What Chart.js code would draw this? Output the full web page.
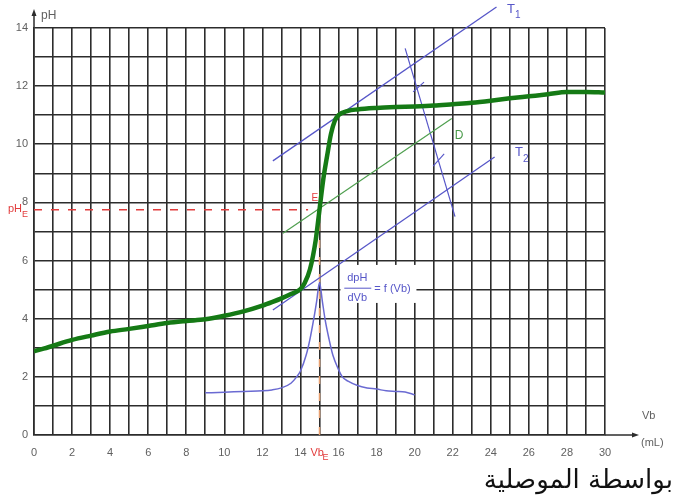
<!DOCTYPE html>
<html><head><meta charset="utf-8">
<script src="https://cdn.jsdelivr.net/npm/chart.js@4/dist/chart.umd.min.js"></script>
<style>
html,body{margin:0;padding:0;background:#fff;width:685px;height:502px;overflow:hidden;}
#wrap{position:relative;width:685px;height:502px;}
canvas{position:absolute;left:0;top:0;}
#cap{position:absolute;right:12px;top:464px;font-family:'DejaVu Sans',sans-serif;font-size:26px;color:#111;white-space:nowrap;}
</style></head><body>
<div id="wrap"><canvas id="c" width="685" height="502"></canvas><div id="cap" dir="rtl">بواسطة الموصلية</div></div>
<script>
// ---- data ----
const xTickLabels = [0,2,4,6,8,10,12,14,16,18,20,22,24,26,28,30];
const yTickLabels = [0,2,4,6,8,10,12,14];

const phX = [0,0.5,1,2,3,4,5,6,7,8,9,10,11,12,12.5,13,13.5,14,14.2,14.5,14.8,15,15.2,15.4,15.6,15.8,16,16.5,17,18,19,20,21,22,23,24,25,26,27,28,29,30];
const phY = [2.88,2.97,3.07,3.27,3.42,3.56,3.65,3.75,3.85,3.92,3.98,4.1,4.25,4.45,4.57,4.7,4.85,5.02,5.2,5.7,6.7,7.75,8.8,9.6,10.35,10.8,11.0,11.15,11.2,11.25,11.28,11.3,11.33,11.38,11.43,11.5,11.58,11.65,11.72,11.8,11.8,11.78];

const derivX = [9,10,11,12,12.5,13,13.5,13.8,14,14.3,14.5,14.7,14.85,15,15.15,15.3,15.5,15.7,16,16.2,16.5,17,17.5,18,18.5,19,19.5,20];
const derivY = [1.45,1.47,1.5,1.52,1.55,1.62,1.78,2.0,2.2,2.75,3.3,4.0,4.6,5.25,4.6,3.95,3.3,2.75,2.25,2.0,1.85,1.7,1.62,1.58,1.52,1.5,1.48,1.38];

const tangent1X = [12.55, 24.3], tangent1Y = [9.43, 14.72];
const tangent2X = [12.55, 24.2], tangent2Y = [4.3, 9.56];
const middleX = [13.08, 21.95], middleY = [6.94, 10.89];
const transX = [19.5, 22.12], transY = [13.3, 7.51];
const markAX = [19.92, 20.49], markAY = [11.8, 12.14];
const markBX = [20.97, 21.55], markBY = [9.25, 9.67];
const eqVb = 15.0, eqPH = 7.75;
const pheLineX = [0, 14.4], pheLineY = [eqPH, eqPH];
const vbeLineX = [eqVb, eqVb], vbeLineY = [0, eqPH];

function pts(xs, ys){ return xs.map((x,i)=>({x:x, y:ys[i]})); }

const BLUE = '#5656c8';
const GRID = '#2c2c2c';
const TICKC = '#606060';
const RED = '#e23c3c';
const FONT = '"Liberation Sans Narrow","Liberation Sans",Arial,sans-serif';

const overlay = {
  id:'overlay',
  beforeDatasetsDraw(chart){
    const c = chart.ctx, xs = chart.scales.x, ys = chart.scales.y;
    c.save(); c.fillStyle='#fff';
    c.fillRect(xs.getPixelForValue(16.1), ys.getPixelForValue(5.85), 76, 38);
    c.restore();
  },
  afterDraw(chart){
    const c = chart.ctx, a = chart.chartArea, xs = chart.scales.x, ys = chart.scales.y;
    c.save();
    c.strokeStyle = GRID; c.fillStyle = GRID; c.lineWidth = 1.5;
    c.beginPath(); c.moveTo(a.left, a.top); c.lineTo(a.left, a.top-16); c.stroke();
    c.beginPath(); c.moveTo(a.left, a.top-19); c.lineTo(a.left-2.5, a.top-12); c.lineTo(a.left+2.5, a.top-12); c.closePath(); c.fill();
    c.beginPath(); c.moveTo(a.right, a.bottom); c.lineTo(a.right+30, a.bottom); c.stroke();
    c.beginPath(); c.moveTo(a.right+34, a.bottom); c.lineTo(a.right+27, a.bottom-2.5); c.lineTo(a.right+27, a.bottom+2.5); c.closePath(); c.fill();
    c.fillStyle = TICKC; c.font = '12px '+FONT; c.textBaseline='middle'; c.textAlign='left';
    c.fillText('pH', a.left+7, a.top-12);
    c.font = '11px '+FONT;
    c.fillText('Vb', a.right+37, a.bottom-19);
    c.fillText('(mL)', a.right+36, a.bottom+8);
    c.fillStyle = RED;
    c.font = '11px '+FONT; c.textAlign='left';
    c.fillText('pH', 8, ys.getPixelForValue(eqPH)-1);
    c.font = '9px '+FONT; c.fillText('E', 22, ys.getPixelForValue(eqPH)+5);
    c.font = '10px '+FONT;
    c.fillText('E', xs.getPixelForValue(eqVb)-8, ys.getPixelForValue(eqPH)-11);
    c.font = '11px '+FONT;
    const vx = xs.getPixelForValue(eqVb);
    c.fillText('Vb', vx-9, a.bottom+18);
    c.font = '9px '+FONT; c.fillText('E', vx+3, a.bottom+23);
    c.fillStyle = '#4a9a4a'; c.font = '12px '+FONT;
    c.fillText('D', xs.getPixelForValue(22.1), ys.getPixelForValue(10.3));
    c.fillStyle = BLUE; c.font = '13px '+FONT;
    c.fillText('T', 507, 9); c.font='10px '+FONT; c.fillText('1', 515, 15);
    c.font = '13px '+FONT;
    c.fillText('T', 515, 152); c.font='10px '+FONT; c.fillText('2', 523, 159);
    const fx = xs.getPixelForValue(16.25), fy = ys.getPixelForValue(5.05);
    c.font = '11px '+FONT; c.textAlign='center';
    c.fillText('dpH', fx+14, fy-10);
    c.fillText('dVb', fx+14, fy+10);
    c.strokeStyle = BLUE; c.lineWidth = 1;
    c.beginPath(); c.moveTo(fx+1, fy); c.lineTo(fx+28, fy); c.stroke();
    c.textAlign='left';
    c.fillText('= f (Vb)', fx+31, fy+1);
    c.restore();
  }
};

const lineDs = (data, color, width, extra) => Object.assign({
  data: data, borderColor: color, borderWidth: width, pointRadius: 0, fill: false, tension: 0
}, extra || {});

new Chart(document.getElementById('c'), {
  type: 'line',
  data: {
    datasets: [
      lineDs(pts(phX, phY), '#157a15', 4.5, {tension: 0.3, cubicInterpolationMode:'monotone'}),
      lineDs(pts(derivX, derivY), '#6a6ad2', 1.5, {cubicInterpolationMode:'monotone'}),
      lineDs(pts(tangent1X, tangent1Y), BLUE, 1.3, {clip: false}),
      lineDs(pts(tangent2X, tangent2Y), BLUE, 1.3),
      lineDs(pts(middleX, middleY), '#4f9f4f', 1.2),
      lineDs(pts(transX, transY), BLUE, 1.2),
      lineDs(pts(markAX, markAY), BLUE, 1.1),
      lineDs(pts(markBX, markBY), BLUE, 1.1),
      lineDs(pts(pheLineX, pheLineY), RED, 1.5, {borderDash:[8,9]}),
      lineDs(pts(vbeLineX, vbeLineY), '#e8a070', 1.5, {borderDash:[8,9]})
    ]
  },
  options: {
    responsive: false, animation: false, devicePixelRatio: 1,
    layout: { padding: { top: 28, right: 80, left: 0, bottom: 0 } },
    plugins: { legend: { display: false }, tooltip: { enabled: false } },
    scales: {
      x: {
        type: 'linear', min: 0, max: 30,
        afterFit(s){ s.height = 67; },
        ticks: { stepSize: 1, autoSkip: false, maxRotation: 0, padding: 11, color: TICKC,
          font: { size: 11, family: FONT },
          callback: v => xTickLabels.includes(v) ? String(v) : '' },
        grid: { color: GRID, lineWidth: 1.6, drawTicks: false },
        border: { color: GRID, width: 1.6 }
      },
      y: {
        type: 'linear', min: 0, max: 14,
        afterFit(s){ s.width = 34; },
        ticks: { stepSize: 1, autoSkip: false, padding: 6, color: TICKC,
          font: { size: 11, family: FONT },
          callback: v => yTickLabels.includes(v) ? String(v) : '' },
        grid: { color: GRID, lineWidth: 1.6, drawTicks: false },
        border: { color: GRID, width: 1.6 }
      }
    }
  },
  plugins: [overlay]
});
</script>
</body></html>
